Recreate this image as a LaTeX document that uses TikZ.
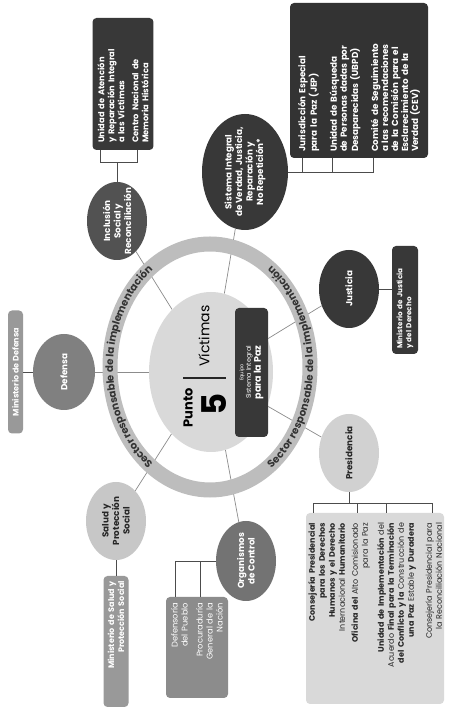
\documentclass[tikz,border=0pt]{standalone}
\usepackage{fontspec}
\setmainfont{Poppins}
\usetikzlibrary{shapes.geometric, decorations.text, backgrounds}

\begin{document}
\begin{tikzpicture}[x=1pt, y=1pt,
    sat/.style={ellipse, rotate=90, minimum width=78pt, minimum height=60pt, inner xsep=-14pt, inner ysep=0pt, align=center, font=\bfseries\fontsize{8.8}{10.5}\selectfont},
    box/.style={rectangle, rounded corners=4pt, rotate=90, inner sep=5pt, font=\bfseries\fontsize{8}{10}\selectfont},
    link/.style={draw=black!45, line width=0.7pt},
    bracket/.style={draw=black!70, line width=0.6pt},
    ringtext/.style={decorate, decoration={text along path, text align=center, raise=-3.2pt, text color=black!80,
        text={|\bfseries\fontsize{10.3}{11}\selectfont|Sector responsable de la implementación}}}
]

\useasboundingbox (0,0) rectangle (448,710);

% Centre - Punto 5
\coordinate (ringc) at (210,343);
\node[ellipse, fill=black!15, rotate=90, minimum width=160pt, minimum height=124pt] (core) at (211,338) {};
\node[rotate=90, font=\bfseries\fontsize{13}{13}\selectfont] (punto) at (188,302) {Punto};
\node[rotate=90, font=\bfseries\fontsize{34}{34}\selectfont] (five) at (214,306) {5};
\node[rotate=90, font=\fontsize{14}{14}\selectfont] (victimas) at (204,374) {Víctimas};
\draw[line width=1.6pt, black!85] (183,332) -- (226,332);

% Equipo box on the centre
\node[box, fill=black!78, text=white, minimum width=129pt, minimum height=33pt, inner sep=2pt, align=center, font=\fontsize{6.5}{7.5}\selectfont] (equipo) at (251.5,337.5) {{\fontsize{5}{6}\selectfont Equipo}\\Sistema Integral\\{\bfseries\fontsize{9.5}{10}\selectfont para la Paz}};

% Sectors round the ring
\node[sat, fill=black!68, text=white] (incl) at (117,489) {Inclusión\\Social y\\Reconciliación};
\node[sat, fill=black!78, text=white, minimum width=116pt, minimum height=86pt, inner xsep=-20pt] (sivj) at (245,538) {Sistema Integral\\de Verdad, Justicia,\\Reparación y\\No Repetición*};
\node[sat, fill=black!78, text=white] (just) at (349,421) {Justicia};
\node[sat, fill=black!18, text=black!85] (pres) at (349,257) {Presidencia};
\node[sat, fill=black!55, text=white, minimum width=80pt] (org) at (246,149) {Organismos\\de Control};
\node[sat, fill=black!22, text=black!85] (salud) at (116,189) {Salud y\\Protección\\Social};
\node[sat, fill=black!50, text=white, minimum width=76pt, minimum height=62pt] (def) at (64,338) {Defensa};

% Entities of each sector
\node[box, fill=black!78, text=white, minimum width=132pt, minimum height=60pt, inner xsep=7pt, text width=118pt, align=left, font=\bfseries\fontsize{8.3}{10}\selectfont] (uvbox) at (123,626) {Unidad de Atención\\y Reparación Integral\\a las Víctimas\\[4pt]Centro Nacional de\\Memoria Histórica};
\node[box, fill=black!80, text=white, minimum width=155pt, minimum height=138pt, inner xsep=6pt, text width=143pt, align=left, font=\bfseries\fontsize{8.8}{10}\selectfont] (jepbox) at (359,629.5) {Jurisdicción Especial\\para la Paz (JEP)\\[10pt]Unidad de Búsqueda\\de Personas dadas por\\Desaparecidas (UBPD)\\[10pt]Comité de Seguimiento\\a las recomendaciones\\de la Comisión para el\\Esclarecimiento de la\\Verdad (CEV)};
\node[box, fill=black!78, text=white, minimum width=108pt, minimum height=26pt, inner xsep=5pt, inner ysep=2pt, text width=98pt, align=left, font=\bfseries\fontsize{7.2}{9}\selectfont] (mjbox) at (405,410) {Ministerio de Justicia\\y del Derecho};
\node[box, fill=black!15, text=black!85, minimum width=191pt, minimum height=138pt, inner xsep=10pt, inner ysep=1pt, text width=171pt, align=right, font=\fontsize{8}{10}\selectfont] (presbox) at (375,101.5) {{\bfseries Consejería Presidencial}\\{\bfseries para los Derechos}\\{\bfseries Humanos y el Derecho}\\Internacional {\bfseries Humanitario}\\[3pt]{\bfseries Oficina del} Alto Comisionado\\para la Paz\\[6pt]{\bfseries Unidad de Implementación} del\\Acuerdo {\bfseries Final para la Terminación}\\{\bfseries del Conflicto y la} Construcción de\\{\bfseries una Paz} Estable {\bfseries y Duradera}\\[8pt]Consejería Presidencial para\\la Reconciliación Nacional};
\node[box, fill=black!45, text=white, minimum width=101pt, minimum height=62pt, inner xsep=6pt, text width=89pt, align=right, font=\fontsize{8.3}{10}\selectfont] (orgbox) at (197,62.5) {Defensoría\\del Pueblo\\[5pt]Procuraduría\\General de la\\Nación};
\node[box, fill=black!40, text=white, minimum width=131pt, minimum height=25pt, inner xsep=5pt, inner ysep=2pt, text width=121pt, align=right] (msbox) at (116,68.5) {Ministerio de Salud y\\Protección Social};
\node[box, fill=black!40, text=white, minimum width=123pt, minimum height=15pt, inner ysep=2pt] (mdbox) at (15.5,338) {Ministerio de Defensa};

% Brackets to the entities
\draw[bracket] (incl.east) -- ++(0,19) coordinate (inclb);
\draw[bracket] ([xshift=-23pt]uvbox.west) |- (inclb) -| ([xshift=14pt]uvbox.west);
\draw[bracket] (sivj.south) -| ([xshift=14pt]jepbox.west);
\draw[bracket] ([xshift=-57pt]jepbox.west) -- ([xshift=-57pt]jepbox.west |- sivj.south);
\draw[bracket] ([xshift=-27pt]jepbox.west) -- ([xshift=-27pt]jepbox.west |- sivj.south);
\draw[bracket] (just.south) -- (just.south -| mjbox.north);
\draw[bracket] (pres.west) -- ++(0,-11) coordinate (presb);
\draw[bracket] ([xshift=-62pt]presbox.east) |- (presb) -| ([xshift=57pt]presbox.east);
\draw[bracket] ([xshift=-18pt]presbox.east) -- ([xshift=-18pt]presbox.east |- presb);
\draw[bracket] ([xshift=11pt]presbox.east) -- ([xshift=11pt]presbox.east |- presb);
\draw[bracket] (org.north) -| ([xshift=-22pt]orgbox.east);
\draw[bracket] ([xshift=3pt]orgbox.east) -- ([xshift=3pt]orgbox.east |- org.north);
\draw[bracket] (salud) -- (msbox);
\draw[bracket] (def) -- (mdbox);

\begin{scope}[on background layer]
\fill[white] (0,0) rectangle (448,710);
% Spokes from the centre
\draw[link] (core) -- (incl);
\draw[link] (core) -- (sivj);
\draw[link] (core) -- (def);
\draw[link] (core) -- (salud);
\draw[link] (core) -- (org);
\draw[link] ([yshift=34pt]equipo.south) -- (just);
\draw[link] ([yshift=-34pt]equipo.south) -- (pres);
% Ring with its two labels
\draw[line width=15pt, black!26] (ringc) ellipse[x radius=100pt, y radius=123pt];
\path[ringtext] ([shift={(255:100pt and 123pt)}]ringc) arc[start angle=255, end angle=105, x radius=100pt, y radius=123pt];
\path[ringtext] ([shift={(-75:100pt and 123pt)}]ringc) arc[start angle=-75, end angle=75, x radius=100pt, y radius=123pt];
\end{scope}

\end{tikzpicture}
\end{document}
